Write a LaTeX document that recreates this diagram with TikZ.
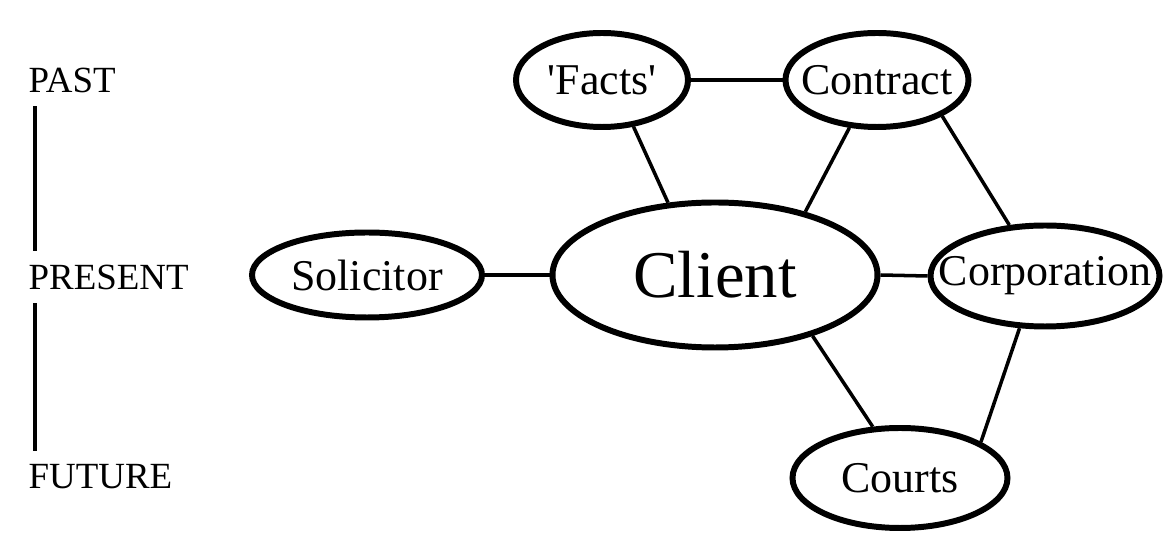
\documentclass[tikz,border=0pt]{standalone}
\usepackage{fontspec}
\setmainfont{Liberation Serif}
\usetikzlibrary{shapes.geometric}

\begin{document}
\begin{tikzpicture}[
	bubble/.style={draw, ellipse, line width=1.7pt, inner sep=0pt, font=\fontsize{12.5}{14}\selectfont},
	era/.style={anchor=west, inner sep=0pt, font=\fontsize{10.5}{12}\selectfont},
	link/.style={line width=1pt},
	timeline/.style={line width=1.3pt}]
	\useasboundingbox (0,0) rectangle (11.68,5.6);
	% time axis
	\node[era] (past) at (0.28,4.80) {PAST};
	\node[era] (present) at (0.28,2.83) {PRESENT};
	\node[era] (future) at (0.28,0.83) {FUTURE};
	\draw[timeline] ([xshift=0.07cm,yshift=-0.13cm]past.south west) -- ([xshift=0.07cm,yshift=0.13cm]present.north west);
	\draw[timeline] ([xshift=0.07cm,yshift=-0.13cm]present.south west) -- ([xshift=0.07cm,yshift=0.13cm]future.north west);
	% the client and the rest
	\node[bubble, minimum width=1.72cm, minimum height=0.94cm] (facts) at (6.02,4.80) {\textquotesingle Facts\textquotesingle};
	\node[bubble, minimum width=1.83cm, minimum height=0.94cm, inner xsep=-0.15cm] (contract) at (8.77,4.80) {Contract};
	\node[bubble, minimum width=3.25cm, minimum height=1.45cm, font=\fontsize{19}{21}\selectfont] (client) at (7.15,2.85) {Client};
	\node[bubble, minimum width=2.30cm, minimum height=0.85cm] (solicitor) at (3.67,2.85) {Solicitor};
	\node[bubble, minimum width=2.29cm, minimum height=1.01cm, inner xsep=-0.3cm] (corp) at (10.45,2.84) {Corporation};
	\node[bubble, minimum width=2.15cm, minimum height=1.00cm] (courts) at (9.00,0.82) {Courts};
	\draw[link] (facts.east) -- (contract.west);
	\draw[link] (solicitor.east) -- (client.west);
	\draw[link] (client.east) -- (corp.west);
	\draw[link] (facts.-56) -- (client.123);
	\draw[link] (contract.-120) -- (client.35);
	\draw[link] (contract.-29) -- (corp.125);
	\draw[link] (client.-32) -- (courts.118);
	\draw[link] (corp.-116) -- (courts.24);
\end{tikzpicture}
\end{document}
